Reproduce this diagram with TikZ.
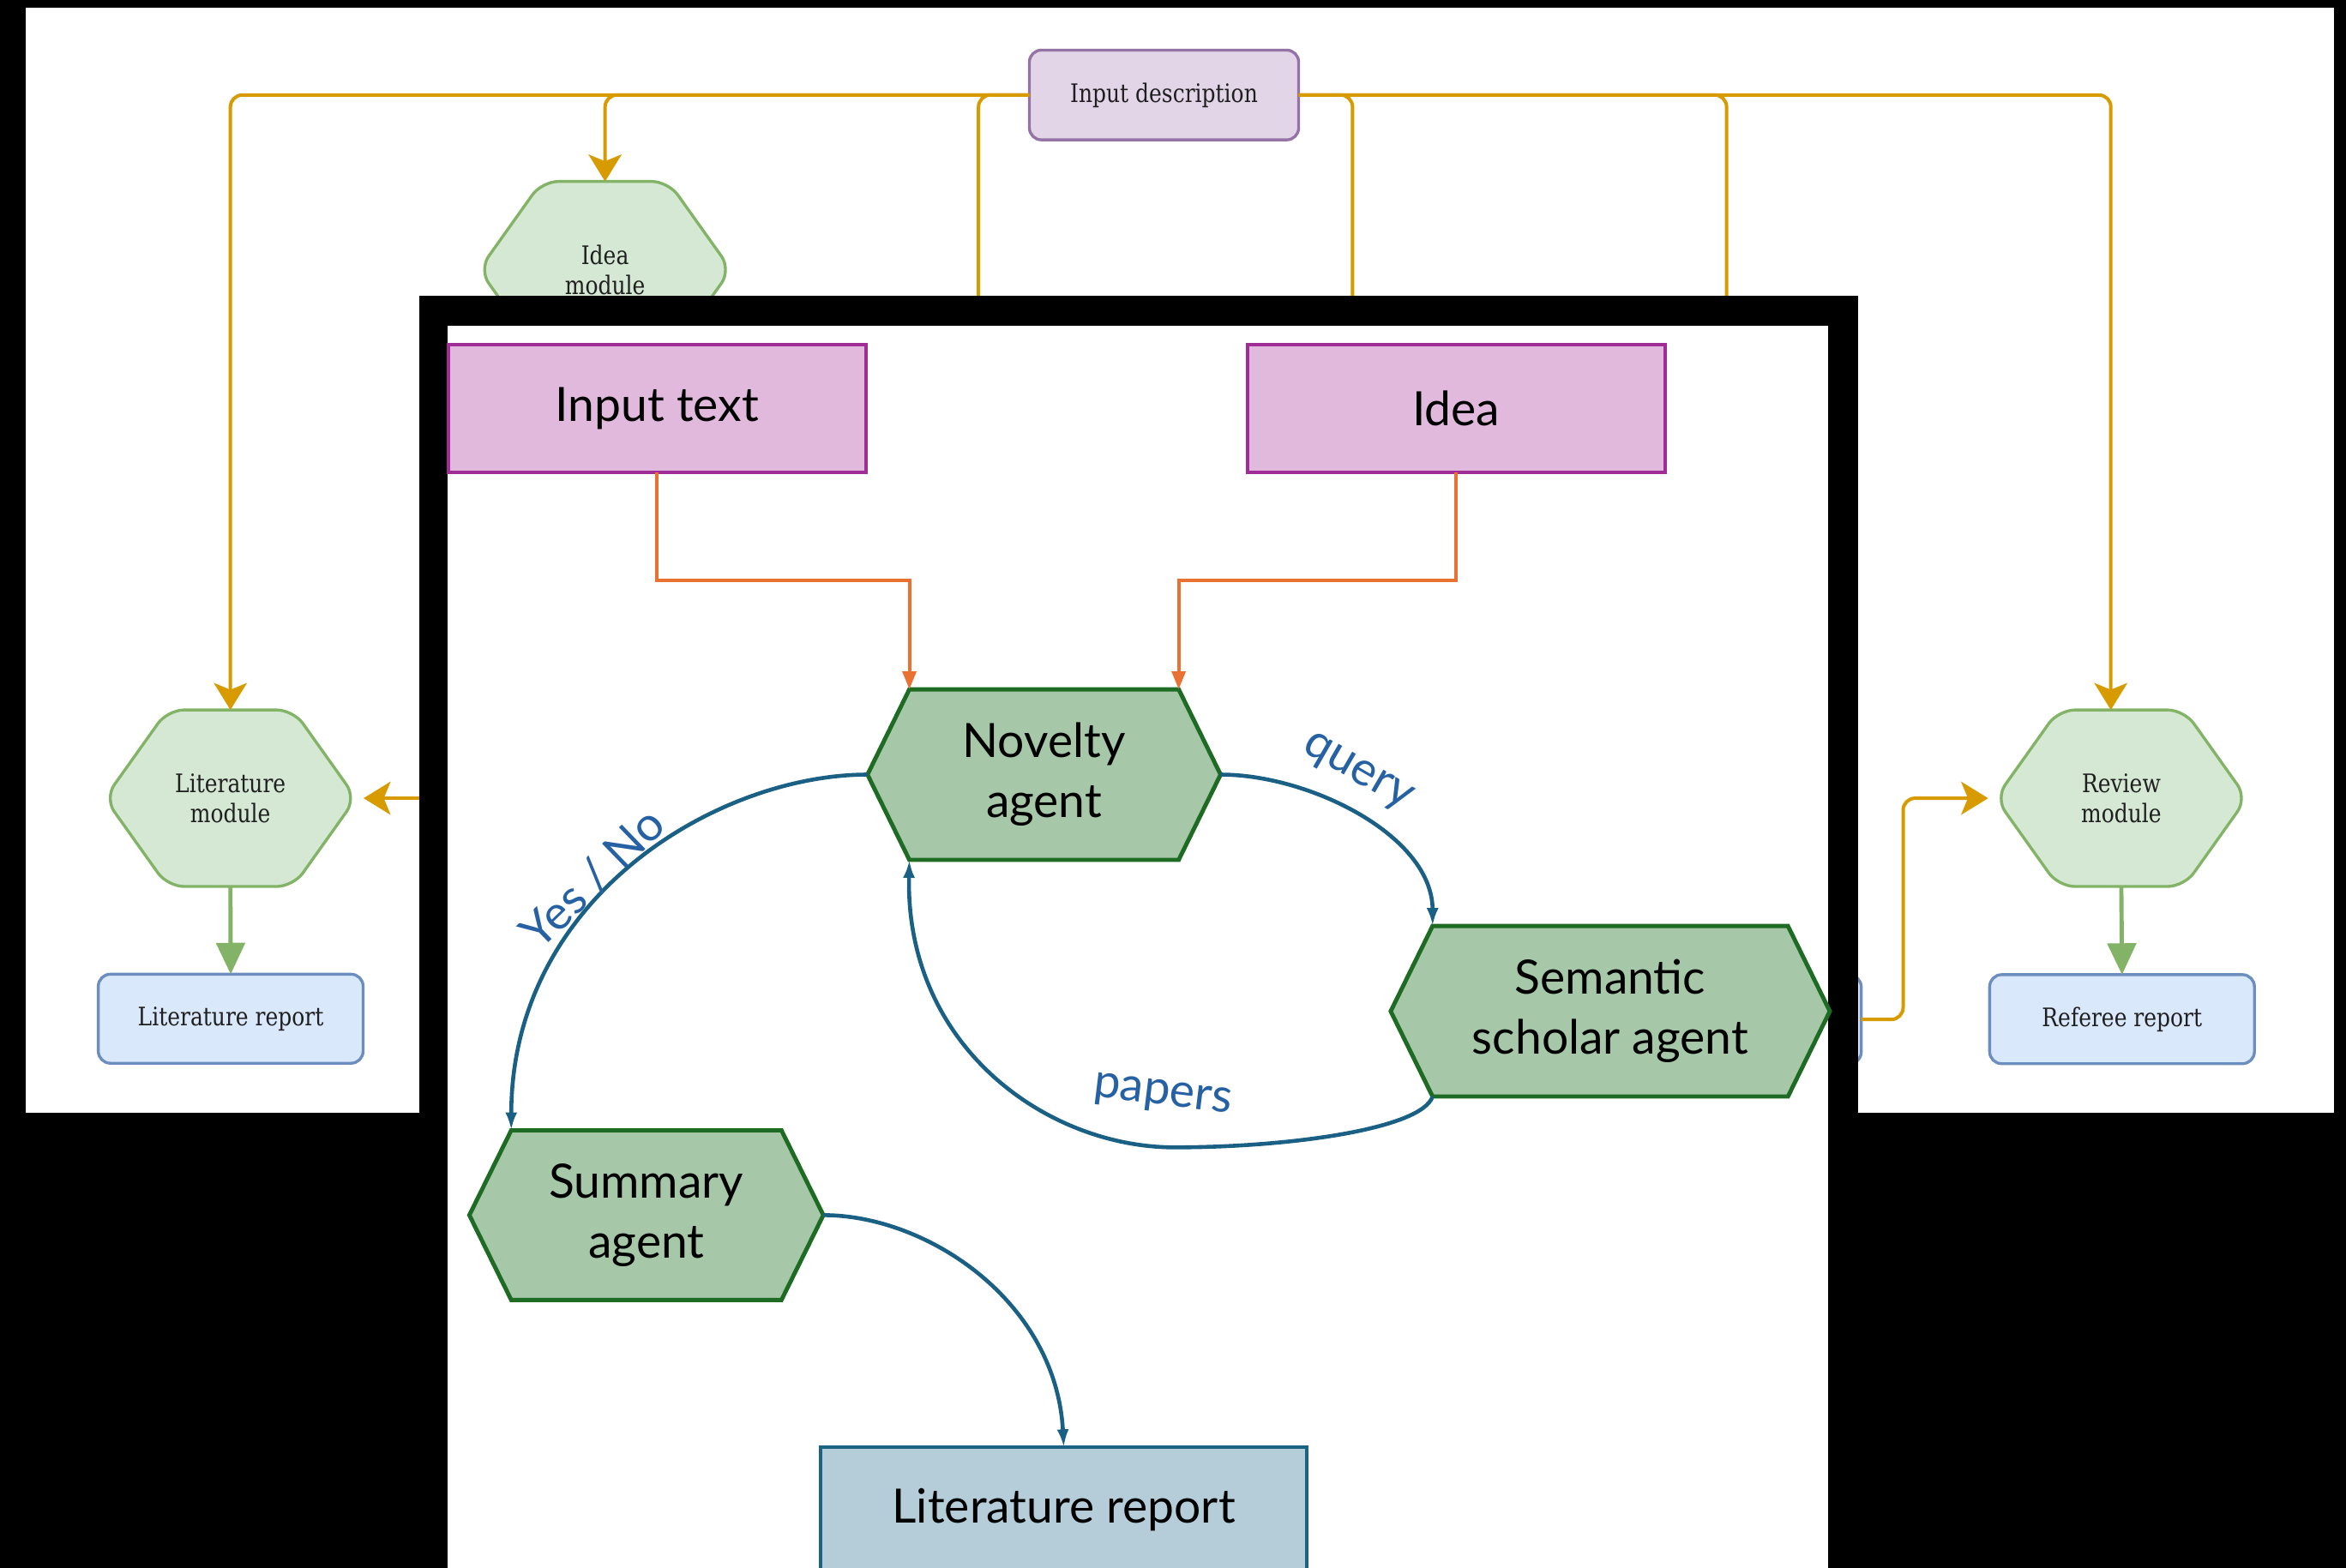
\documentclass[tikz,border=0pt]{standalone}
\usepackage{fontspec}
\setmainfont{Lato}
\newfontfamily\slabfont[FakeStretch=0.84]{DejaVu Serif}
\usetikzlibrary{arrows.meta,calc}

% outer (module level) palette
\definecolor{dioYellow}{HTML}{D79B00}
\definecolor{dioGreenFill}{HTML}{D5E8D4}
\definecolor{dioGreenLine}{HTML}{82B366}
\definecolor{dioBlueFill}{HTML}{DAE8FC}
\definecolor{dioBlueLine}{HTML}{6C8EBF}
\definecolor{dioPurpleFill}{HTML}{E1D5E7}
\definecolor{dioPurpleLine}{HTML}{9673A6}
% inner (agent level) palette
\definecolor{inPurpleFill}{HTML}{E1B9DC}
\definecolor{inPurpleLine}{HTML}{A02D96}
\definecolor{agentFill}{HTML}{A6C8A8}
\definecolor{agentLine}{HTML}{1E6B24}
\definecolor{reportFill}{HTML}{B5CDD8}
\definecolor{reportLine}{HTML}{1B6283}
\definecolor{flowOrange}{HTML}{E97132}
\definecolor{flowBlue}{HTML}{1A5F84}
\definecolor{labelBlue}{HTML}{2561A3}

% hexagon with pointed left/right ends, plus a text node and corner coordinates
% #1 shape style, #2 text style, #3 name, #4 x, #5 y, #6 half width, #7 half height, #8 inset, #9 text
\newcommand\hexnode[9]{%
  \path[#1] (#4-#6,#5) -- (#4-#6+#8,#5-#7) -- (#4+#6-#8,#5-#7) -- (#4+#6,#5)
    -- (#4+#6-#8,#5+#7) -- (#4-#6+#8,#5+#7) -- cycle;
  \node[#2, minimum width=2*#6*0.02cm, minimum height=2*#7*0.02cm] (#3) at (#4,#5) {#9};
  \coordinate (#3-nw) at (#4-#6+#8,#5-#7);
  \coordinate (#3-ne) at (#4+#6-#8,#5-#7);
  \coordinate (#3-sw) at (#4-#6+#8,#5+#7);
  \coordinate (#3-se) at (#4+#6-#8,#5+#7);
}

\begin{document}
\begin{tikzpicture}[x=0.02cm,y=-0.02cm,
  outerhex/.style={fill=dioGreenFill, draw=dioGreenLine, line width=1.1pt, rounded corners=0.22cm},
  outertext/.style={font=\slabfont\fontsize{9.7}{11.4}\selectfont, text=black!88,
    align=center, inner sep=0pt, outer sep=0pt},
  outerbox/.style={outertext, rounded corners=0.16cm, line width=1.1pt},
  descbox/.style={outerbox, fill=dioPurpleFill, draw=dioPurpleLine,
    minimum width=3.6cm, minimum height=1.2cm},
  outrep/.style={outerbox, fill=dioBlueFill, draw=dioBlueLine,
    minimum width=3.54cm, minimum height=1.19cm},
  yline/.style={draw=dioYellow, line width=1.3pt, rounded corners=0.16cm},
  yarrow/.style={yline, -{Stealth[length=0.36cm,width=0.44cm,inset=0.09cm]}},
  garrow/.style={draw=dioGreenLine, line width=1.6pt, -{Triangle[length=0.42cm,width=0.38cm]}},
  agenthex/.style={fill=agentFill, draw=agentLine, line width=1.6pt},
  agenttext/.style={font=\fontsize{18}{22.8}\selectfont, align=center, inner sep=0pt, outer sep=0pt},
  inbox/.style={agenttext, fill=inPurpleFill, draw=inPurpleLine, line width=1.3pt,
    minimum width=5.58cm, minimum height=1.71cm},
  repbox/.style={agenttext, fill=reportFill, draw=reportLine, line width=1.4pt,
    minimum width=6.5cm, minimum height=1.66cm},
  oarrow/.style={draw=flowOrange, line width=1.3pt, -{Triangle[length=0.24cm,width=0.18cm]}},
  barrow/.style={draw=flowBlue, line width=1.5pt, -{Latex[length=0.24cm,width=0.16cm]}},
  flowlabel/.style={text=labelBlue, font=\fontsize{18}{22}\selectfont, inner sep=0pt}]

\useasboundingbox (0,0) rectangle (1568,1048);

% backdrop and outer panel
\fill[black] (0,0) rectangle (1568,1048);
\fill[white] (17,5) rectangle (1560,744);

% ---------- module-level flow ----------
\node[descbox] (indesc) at (778,63.5) {Input description};
\hexnode{outerhex}{outertext}{ideamod}{404.4}{180.3}{84.2}{59}{42}{Idea\\module}
\hexnode{outerhex}{outertext}{litmod}{154}{533.6}{84}{59}{42}{Literature\\module}
\hexnode{outerhex}{outertext}{revmod}{1417.8}{533.6}{84}{59}{42}{Review\\module}
\node[outrep] (litrep) at (154.2,681) {Literature report};
\node[outrep] (refrep) at (1418.3,681.3) {Referee report};
\node[outrep] (hidrep) at (1155.5,681.5) {};

\coordinate (dropA) at (654,260);
\coordinate (dropB) at (904,260);
\coordinate (dropC) at (1154,260);
\coordinate (litfeed) at (300,533.6);

\draw[yarrow] (indesc.west) -| (litmod.north);
\draw[yarrow] (indesc.west) -| (ideamod.north);
\draw[yline] (indesc.west) -| (dropA);
\draw[yline] (indesc.east) -| (dropB);
\draw[yline] (indesc.east) -| (dropC);
\draw[yarrow] (indesc.east) -| ([xshift=-0.14cm]revmod.north);
\draw[yarrow, shorten >=0.1cm] (litfeed) -- (litmod.east);
\draw[yarrow] (hidrep.east) -- ++(28,0) |- ([xshift=-0.1cm]revmod.west);
\draw[garrow] (litmod.south) -- (litrep.north);
\draw[garrow] (revmod.south) -- (refrep.north);

% ---------- literature module, agent level ----------
\fill[black] (280,198) rectangle (1242,1060);
\fill[white] (299,218) rectangle (1222,1060);

\node[inbox] (intext) at (439.1,273) {Input text};
\node[inbox] (idea) at (973.2,273) {Idea};
\hexnode{agenthex}{agenttext}{nov}{697.8}{517.8}{118}{57}{28}{Novelty\\agent}
\hexnode{agenthex}{agenttext}{sem}{1076.25}{676}{146.75}{57}{28}{Semantic\\scholar agent}
\hexnode{agenthex}{agenttext}{sum}{432}{812.3}{118.3}{56.7}{28}{Summary\\agent}
\node[repbox] (rep) at (711,1009) {Literature report};

\draw[oarrow] (intext.south) -- ++(0,72) -| (nov-nw);
\draw[oarrow] (idea.south) -- ++(0,72) -| (nov-ne);

\coordinate (papers-low) at (785,767);
\draw[barrow] (nov.east) .. controls +(60,0) and +(0,-60) .. (sem-nw);
\draw[barrow] (sem-sw) .. controls +(-7.5,22) and +(75,0) .. (papers-low)
  .. controls +(-85,0) and +(-2.8,125) .. (nov-sw);
\draw[barrow] (nov.west) .. controls +(-100,0) and +(0,-156) .. (sum-nw);
\draw[barrow] (sum.east) .. controls +(70,0) and +(-5,-97) .. (rep.north);

\node[flowlabel, rotate=-30] (qlbl) at (907,517) {query};
\node[flowlabel, rotate=-7] (plbl) at (777,733) {papers};
\node[flowlabel, rotate=44] (ylbl) at (396,587) {Yes / No};

\end{tikzpicture}
\end{document}
